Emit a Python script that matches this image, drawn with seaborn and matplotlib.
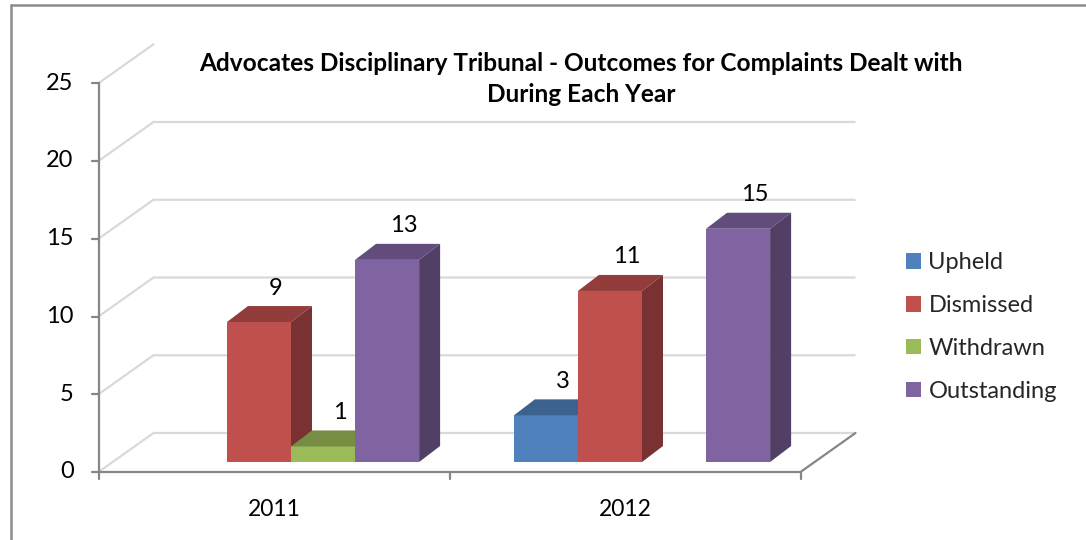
import numpy as np
import pandas as pd
import matplotlib
matplotlib.use('Agg')
import matplotlib.pyplot as plt
from matplotlib.patches import Polygon, Rectangle
from matplotlib.lines import Line2D
import seaborn as sns

years = ['2011', '2012']
outcomes = ['Upheld', 'Dismissed', 'Withdrawn', 'Outstanding']
upheld = [0, 3]
dismissed = [9, 11]
withdrawn = [1, 0]
outstanding = [13, 15]
y_ticks = [0, 5, 10, 15, 20, 25]
title = ('Advocates Disciplinary Tribunal - Outcomes for Complaints Dealt with\n'
         'During Each Year')
colors = ['#4F81BD', '#C0504D', '#9BBB59', '#8064A2']

rows = []
for i, yr in enumerate(years):
    for name, vals in zip(outcomes, [upheld, dismissed, withdrawn, outstanding]):
        rows.append({'Year': yr, 'Outcome': name, 'Count': vals[i]})
df = pd.DataFrame(rows)

W, H = 1086, 540
sns.set_theme(style='white')
plt.rcParams['font.family'] = ['Lato', 'DejaVu Sans']

fig = plt.figure(figsize=(W / 100, H / 100), dpi=100)
ax = fig.add_axes([0, 0, 1, 1])

sns.barplot(data=df, x='Year', y='Count', hue='Outcome', order=years,
            hue_order=outcomes, palette=colors, width=0.73, saturation=1,
            linewidth=0, errorbar=None, legend=False, ax=ax)

# pixel geometry of the fake 3d box
X0, UX = 291, 351      # px of first category centre, px per category
Y0, UY = 462, 15.55    # px of zero on the bar plane, px per unit
ax.set_xlim(-X0 / UX, (W - X0) / UX)
ax.set_ylim(-(H - Y0) / UY, Y0 / UY)
ax.axis('off')

fdx, fdy = -17 / UX, -10 / UY      # bar plane -> front plane
ddx, ddy = 55 / UX, 39 / UY        # front plane -> back wall
bdx, bdy = 21 / UX, 16 / UY        # depth of a bar
fx0 = -0.5 + fdx
fx1 = len(years) - 0.5 + fdx

grid_c = '#D9D9D9'
axis_c = '#868686'
for v in y_ticks:
    y = v + fdy
    if v == y_ticks[-1]:
        ax.plot([fx0, fx0 + ddx], [y, y + ddy], color=grid_c, lw=1.6, zorder=1)
    else:
        ax.plot([fx0, fx0 + ddx, fx1 + ddx], [y, y + ddy, y + ddy],
                color=grid_c, lw=1.6, zorder=1, solid_capstyle='butt')
# front axis, floor edges and ticks
ax.plot([fx0, fx0], [fdy, y_ticks[-1] + fdy], color=axis_c, lw=1.6, zorder=2)
ax.plot([fx0, fx1, fx1 + ddx], [fdy, fdy, fdy + ddy], color=axis_c, lw=1.6, zorder=2)
tick_x = 7 / UX
tick_y = 7 / UY
for v in y_ticks:
    ax.plot([fx0 - tick_x, fx0], [v + fdy, v + fdy], color=axis_c, lw=1.6, zorder=2)
    ax.text(fx0 - 25 / UX, v + fdy, str(v), ha='right', va='center',
            fontsize=17, color='black')
for k in range(len(years) + 1):
    xx = fx0 + k
    ax.plot([xx, xx], [fdy, fdy - tick_y], color=axis_c, lw=1.6, zorder=2)
for k, yr in enumerate(years):
    ax.text(k + fdx, fdy - 37 / UY, yr, ha='center', va='center',
            fontsize=16.5, color='black')

# 3d faces on the seaborn bars
bars = sorted([p for p in ax.patches if isinstance(p, Rectangle)],
              key=lambda p: p.get_x())
for i, p in enumerate(bars):
    h = p.get_height()
    z = 3 + i * 0.01
    p.set_zorder(z)
    if h <= 0:
        continue
    x0, w = p.get_x(), p.get_width()
    base = np.array(matplotlib.colors.to_rgb(p.get_facecolor()))
    top = Polygon([(x0, h), (x0 + w, h), (x0 + w + bdx, h + bdy), (x0 + bdx, h + bdy)],
                  closed=True, facecolor=base * 0.76, edgecolor='none', zorder=z + 0.001)
    side = Polygon([(x0 + w, 0), (x0 + w + bdx, bdy), (x0 + w + bdx, h + bdy), (x0 + w, h)],
                   closed=True, facecolor=base * 0.63, edgecolor='none', zorder=z + 0.001)
    ax.add_patch(top)
    ax.add_patch(side)
    ax.text(x0 + w / 2 + 17 / UX, h + 34 / UY, f'{h:g}', ha='center', va='center',
            fontsize=17, color='black', zorder=10)

ax.text((581 - X0) / UX, (Y0 - 79) / UY, title, ha='center', va='center',
        fontsize=17.6, fontweight='bold', linespacing=1.4, color='black')

handles = [Rectangle((0, 0), 1, 1, facecolor=c, edgecolor='none') for c in colors]
fig.legend(handles, outcomes, loc='center left', bbox_to_anchor=(897 / W, 1 - 327 / H),
           frameon=False, fontsize=17, handlelength=0.63, handleheight=0.63,
           handletextpad=0.3, labelspacing=0.92, borderaxespad=0)

# outer chart border
fig.add_artist(Line2D([11 / W, 11 / W], [0, 1 - 5 / H], color='#8C8C8C', lw=1.8))
fig.add_artist(Line2D([11 / W, 1], [1 - 5 / H, 1 - 5 / H], color='#8C8C8C', lw=1.8))

fig.savefig('out.png', dpi=100)
